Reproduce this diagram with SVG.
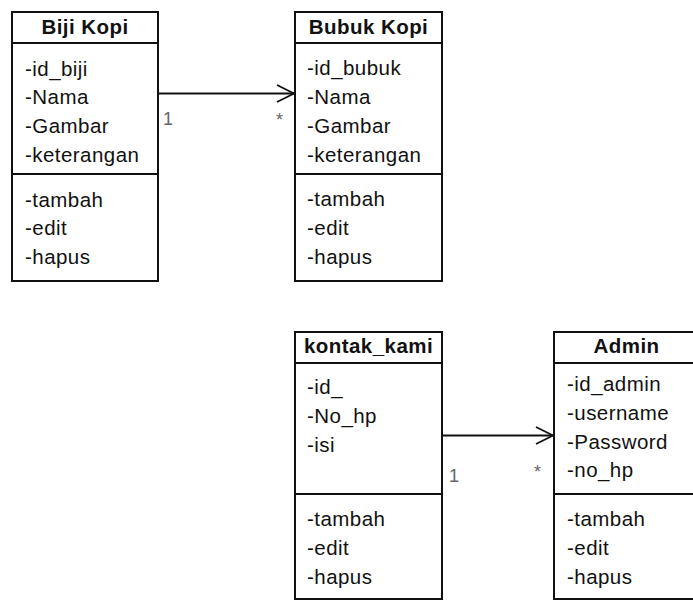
<svg xmlns="http://www.w3.org/2000/svg" width="693" height="601" viewBox="0 0 693 601">
  <defs>
    <style>
      .box { fill: #fff; stroke: #111; stroke-width: 2; }
      .sep { stroke: #111; stroke-width: 2; }
      .title { font-family: "Liberation Sans", Arial, sans-serif; font-size: 20.5px; font-weight: bold; fill: #111; text-anchor: middle; letter-spacing: 0.45px; }
      .attr { font-family: "Liberation Sans", Arial, sans-serif; font-size: 20.5px; fill: #111; letter-spacing: 0.45px; }
      .edge { fill: none; stroke: #111; stroke-width: 1.8; }
      .mult { font-family: "Liberation Sans", Arial, sans-serif; font-size: 18px; fill: #666; }
    </style>
  </defs>
  <rect width="693" height="601" fill="#fff"/>

  <!-- class: Biji Kopi -->
  <g id="biji-kopi">
    <rect class="box" x="12" y="12" width="146" height="269"/>
    <line class="sep" x1="12" y1="43" x2="158" y2="43"/>
    <line class="sep" x1="12" y1="174" x2="158" y2="174"/>
    <text class="title" x="85" y="34">Biji Kopi</text>
    <text class="attr" x="25" y="76">-id_biji</text>
    <text class="attr" x="25" y="104">-Nama</text>
    <text class="attr" x="25" y="133">-Gambar</text>
    <text class="attr" x="25" y="162">-keterangan</text>
    <text class="attr" x="25" y="207">-tambah</text>
    <text class="attr" x="25" y="235">-edit</text>
    <text class="attr" x="25" y="264">-hapus</text>
  </g>

  <!-- class: Bubuk Kopi -->
  <g id="bubuk-kopi">
    <rect class="box" x="295" y="12" width="147" height="269"/>
    <line class="sep" x1="295" y1="43" x2="442" y2="43"/>
    <line class="sep" x1="295" y1="174" x2="442" y2="174"/>
    <text class="title" x="368.5" y="34">Bubuk Kopi</text>
    <text class="attr" x="307" y="75">-id_bubuk</text>
    <text class="attr" x="307" y="104">-Nama</text>
    <text class="attr" x="307" y="133">-Gambar</text>
    <text class="attr" x="307" y="162">-keterangan</text>
    <text class="attr" x="307" y="206">-tambah</text>
    <text class="attr" x="307" y="235">-edit</text>
    <text class="attr" x="307" y="264">-hapus</text>
  </g>

  <!-- class: kontak_kami -->
  <g id="kontak-kami">
    <rect class="box" x="295" y="332" width="147" height="267"/>
    <line class="sep" x1="295" y1="363" x2="442" y2="363"/>
    <line class="sep" x1="295" y1="494" x2="442" y2="494"/>
    <text class="title" x="368.5" y="352.5">kontak_kami</text>
    <text class="attr" x="307" y="394">-id_</text>
    <text class="attr" x="307" y="423">-No_hp</text>
    <text class="attr" x="307" y="452">-isi</text>
    <text class="attr" x="307" y="526">-tambah</text>
    <text class="attr" x="307" y="555">-edit</text>
    <text class="attr" x="307" y="584">-hapus</text>
  </g>

  <!-- class: Admin -->
  <g id="admin">
    <rect class="box" x="554" y="332" width="145" height="267"/>
    <line class="sep" x1="554" y1="363" x2="699" y2="363"/>
    <line class="sep" x1="554" y1="494" x2="699" y2="494"/>
    <text class="title" x="626.5" y="352.5">Admin</text>
    <text class="attr" x="567" y="391">-id_admin</text>
    <text class="attr" x="567" y="420">-username</text>
    <text class="attr" x="567" y="449">-Password</text>
    <text class="attr" x="567" y="477">-no_hp</text>
    <text class="attr" x="567" y="526">-tambah</text>
    <text class="attr" x="567" y="555">-edit</text>
    <text class="attr" x="567" y="584">-hapus</text>
  </g>

  <!-- associations -->
  <g id="connectors">
    <line class="edge" x1="158" y1="93.5" x2="294" y2="93.5"/>
    <polyline class="edge" points="277,85 294,93.5 277,102"/>
    <text class="mult" x="163" y="125">1</text>
    <text class="mult" x="276" y="126">*</text>

    <line class="edge" x1="442" y1="435.5" x2="553" y2="435.5"/>
    <polyline class="edge" points="536,427 553,435.5 536,444"/>
    <text class="mult" x="449" y="482">1</text>
    <text class="mult" x="534" y="478">*</text>
  </g>
</svg>
